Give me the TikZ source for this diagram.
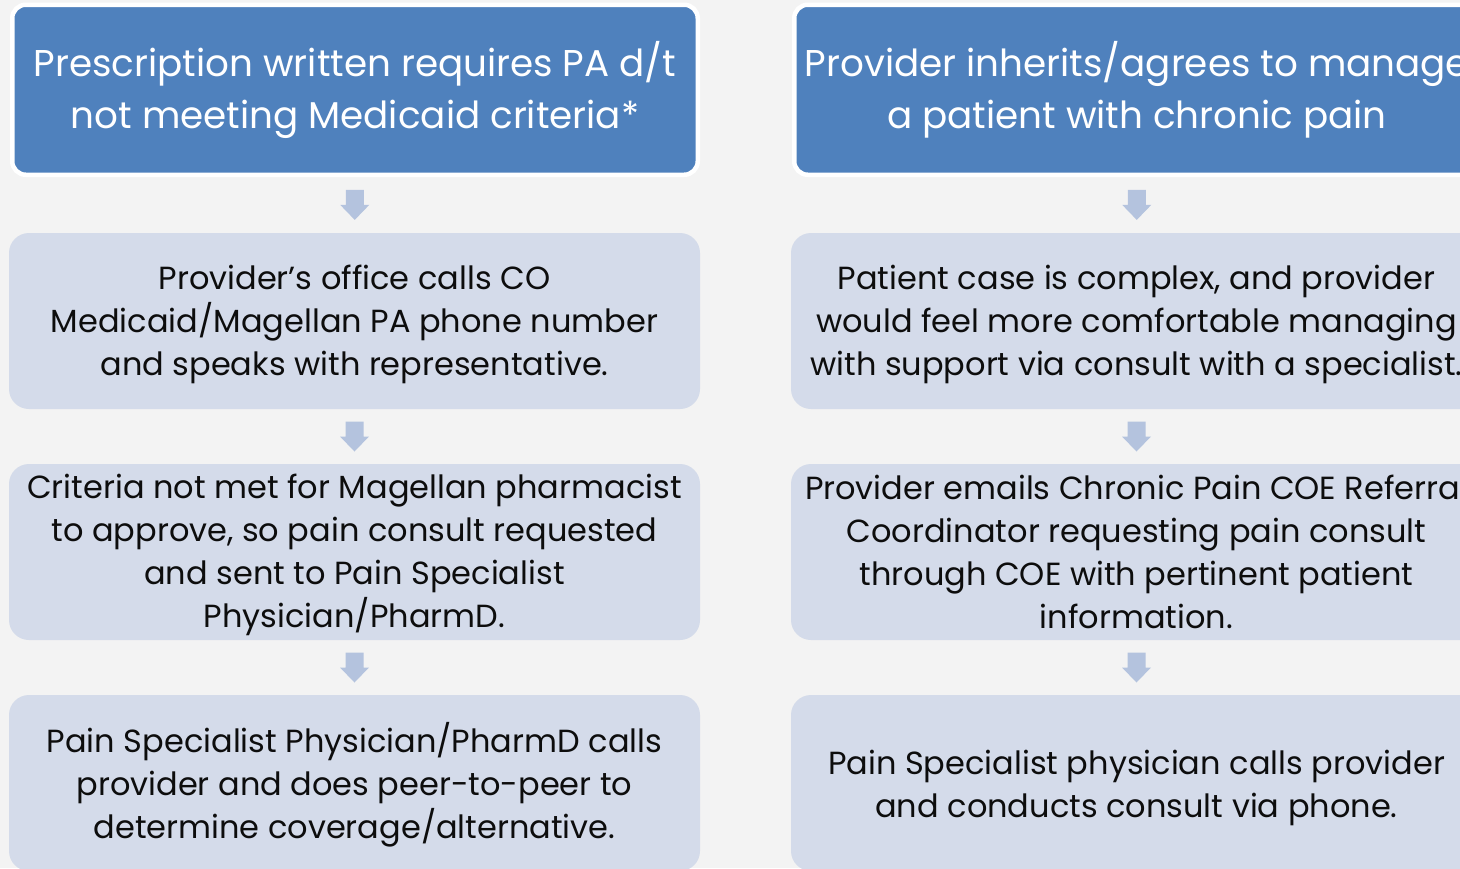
\documentclass[tikz,border=0pt]{standalone}
\usepackage{fontspec}
\setmainfont{Poppins}
\usetikzlibrary{calc}
\definecolor{bg}{HTML}{F3F3F3}
\definecolor{bluebox}{HTML}{4F81BD}
\definecolor{lightbox}{HTML}{D4DBEA}
\definecolor{arrowc}{HTML}{B4C3DE}
\definecolor{txt}{HTML}{0D0D0D}
\tikzset{
  headbox/.style={fill=bluebox, draw=white, line width=4.5pt, rounded corners=13.5pt,
    minimum width=685.5pt, minimum height=170pt, inner sep=0pt},
  headtext/.style={inner sep=0pt, align=center, text=white,
    font=\fontsize{37.3}{52}\selectfont},
  stepbox/.style={fill=lightbox, draw=none, rounded corners=20pt,
    minimum width=691pt, minimum height=176pt, inner sep=0pt},
  steptext/.style={inner sep=0pt, align=center, text=txt,
    font=\fontsize{32}{43}\selectfont},
}
\newcommand{\blockarrow}[2]{%
  \fill[arrowc] ($(#1.south)!0.5!(#2.north)$) ++(-9,-15) -- ++(18,0) -- ++(0,15)
    -- ++(5.5,0) -- ++(-14.5,15) -- ++(-14.5,-15) -- ++(5.5,0) -- cycle;}
\begin{document}
\begin{tikzpicture}[x=1pt,y=-1pt]
\useasboundingbox (0,0) rectangle (1460,868);
\clip (0,0) rectangle (1460,868);
\fill[bg] (0,0) rectangle (1460,868);
% boxes
\node[headbox] (l1) at (355,89.75) {};
\node[stepbox] (l2) at (354.5,321) {};
\node[stepbox] (l3) at (354.5,552) {};
\node[stepbox] (l4) at (354.5,783) {};
\node[headbox] (r1) at (1137,89.75) {};
\node[stepbox] (r2) at (1136.5,321) {};
\node[stepbox] (r3) at (1136.5,552) {};
\node[stepbox] (r4) at (1136.5,783) {};
% texts
\node[headtext] (tl1) at ([yshift=0pt]l1.center) {Prescription written requires PA d/t\\not meeting Medicaid criteria*};
\node[steptext] (tl2) at ([yshift=-3pt]l2.center) {Provider’s office calls CO\\Medicaid/Magellan PA phone number\\and speaks with representative.};
\node[steptext] (tl3) at ([yshift=-3pt]l3.center) {Criteria not met for Magellan pharmacist\\to approve, so pain consult requested\\and sent to Pain Specialist\\Physician/PharmD.};
\node[steptext] (tl4) at ([yshift=-1.5pt]l4.center) {Pain Specialist Physician/PharmD calls\\provider and does peer-to-peer to\\determine coverage/alternative.};
\node[headtext] (tr1) at ([yshift=0pt]r1.center) {Provider inherits/agrees to manage\\a patient with chronic pain};
\node[steptext] (tr2) at ([yshift=-3pt]r2.center) {Patient case is complex, and provider\\would feel more comfortable managing\\with support via consult with a specialist.};
\node[steptext] (tr3) at ([yshift=0pt]r3.center) {Provider emails Chronic Pain COE Referral\\Coordinator requesting pain consult\\through COE with pertinent patient\\information.};
\node[steptext] (tr4) at ([yshift=-4.5pt]r4.center) {Pain Specialist physician calls provider\\and conducts consult via phone.};
% arrows
\blockarrow{l1}{l2}
\blockarrow{l2}{l3}
\blockarrow{l3}{l4}
\blockarrow{r1}{r2}
\blockarrow{r2}{r3}
\blockarrow{r3}{r4}
\end{tikzpicture}
\end{document}
